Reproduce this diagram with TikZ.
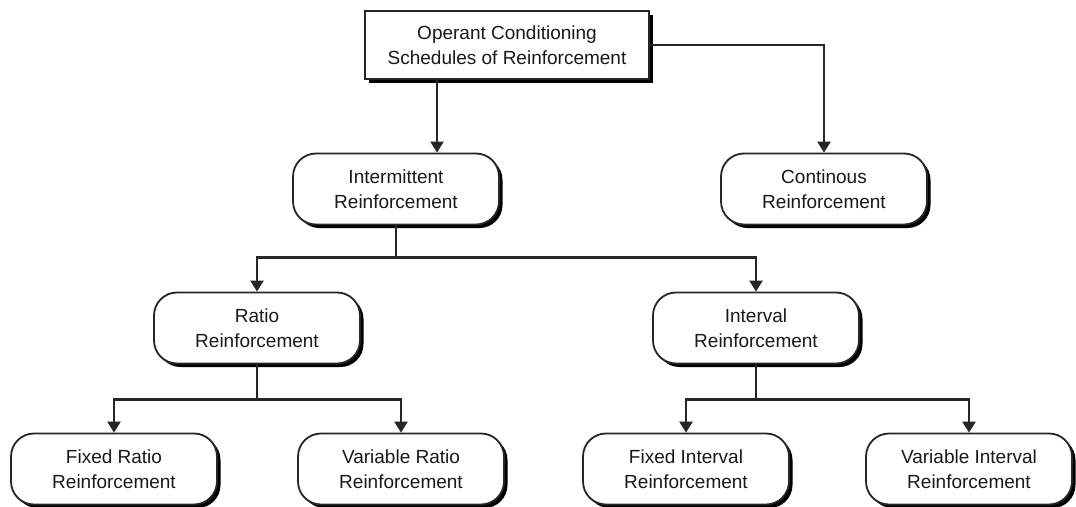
\documentclass[tikz,border=0pt]{standalone}
\usepackage{fontspec}
\setmainfont{Liberation Sans}
\usetikzlibrary{positioning,arrows.meta,shadows}

\begin{document}
\begin{tikzpicture}[x=1pt,y=1pt,on grid,
    every node/.style={font=\fontsize{19}{25}\selectfont,text=black!90,align=center},
    boxshadow/.style={drop shadow={shadow xshift=3.5pt,shadow yshift=-3.5pt,fill=black,opacity=1}},
    topbox/.style={draw=black!85,line width=2.4pt,fill=white,minimum width=284pt,minimum height=68pt,boxshadow},
    roundbox/.style={draw=black!85,line width=1.8pt,fill=white,rounded corners=23pt,minimum width=206pt,minimum height=71pt,boxshadow},
    line/.style={draw=black!85,line width=2.4pt},
    link/.style={line,-{Triangle[width=13pt,length=11pt]}}]
    \useasboundingbox (0,0) rectangle (1076,-506);
    	\node[topbox] (top) at (507,-45) {Operant Conditioning\\Schedules of Reinforcement};
    	\node[roundbox] (inter) [below left=144 and 111 of top] {Intermittent\\Reinforcement};
    	\node[roundbox] (cont) [below right=144 and 317 of top] {Continous\\Reinforcement};
    	\node[roundbox] (ratio) [below left=139 and 139 of inter] {Ratio\\Reinforcement};
    	\node[roundbox] (interval) [below right=139 and 360 of inter] {Interval\\Reinforcement};
    	\node[roundbox] (fixratio) [below left=141 and 143 of ratio] {Fixed Ratio\\Reinforcement};
    	\node[roundbox] (varratio) [below right=141 and 144 of ratio] {Variable Ratio\\Reinforcement};
    	\node[roundbox] (fixint) [below left=141 and 70 of interval] {Fixed Interval\\Reinforcement};
    	\node[roundbox] (varint) [below right=141 and 213 of interval] {Variable Interval\\Reinforcement};
    	% top level
    	\draw[link] ([xshift=-70pt]top.south) -- ([xshift=-70pt]top.south |- inter.north);
    	\draw[link] (top.east) -| (cont);
    	% branches
    	\draw[line] (inter.south) -- ++(0,-32) coordinate (split1);
    	\draw[link] (split1) -| (ratio);
    	\draw[link] (split1) -| (interval);
    	\draw[line] (ratio.south) -- ++(0,-35) coordinate (split2);
    	\draw[link] (split2) -| (fixratio);
    	\draw[link] (split2) -| (varratio);
    	\draw[line] (interval.south) -- ++(0,-35) coordinate (split3);
    	\draw[link] (split3) -| (fixint);
    	\draw[link] (split3) -| (varint);
    \end{tikzpicture}
\end{document}
